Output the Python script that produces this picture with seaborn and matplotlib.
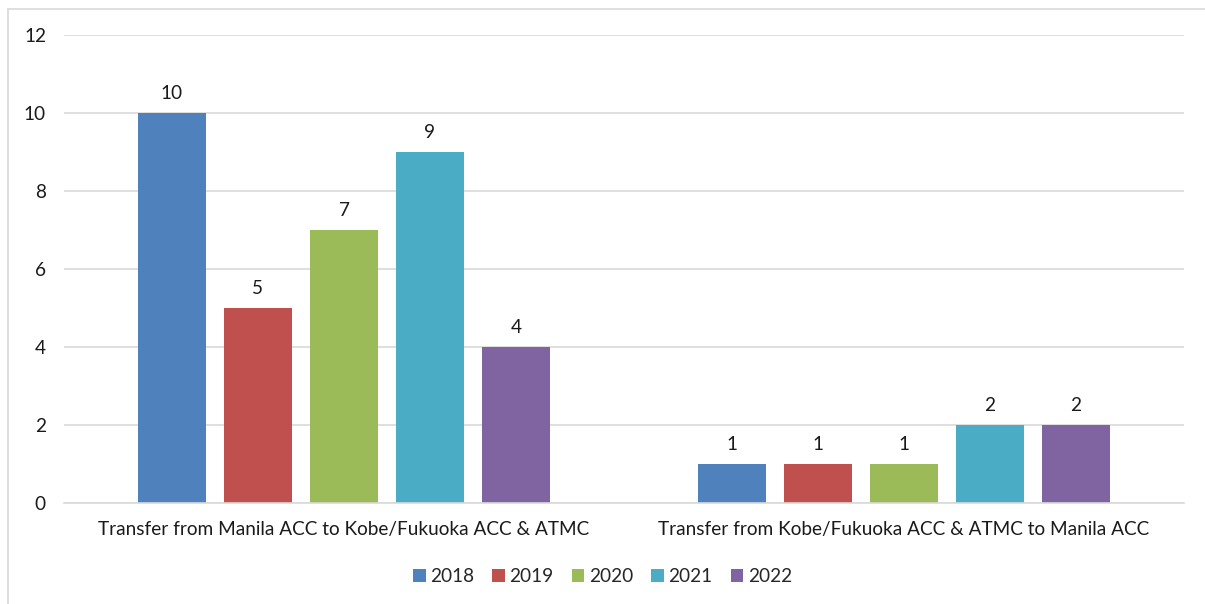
import matplotlib
matplotlib.use("Agg")
import matplotlib.pyplot as plt
from matplotlib.lines import Line2D
from matplotlib.patches import Patch
import seaborn as sns
import pandas as pd

# Controller transfer counts by direction and year
categories = [
    "Transfer from Manila ACC to Kobe/Fukuoka ACC & ATMC",
    "Transfer from Kobe/Fukuoka ACC & ATMC to Manila ACC",
]
years = ["2018", "2019", "2020", "2021", "2022"]
values_manila_to_japan = [10, 5, 7, 9, 4]
values_japan_to_manila = [1, 1, 1, 2, 2]
y_ticks = [0, 2, 4, 6, 8, 10, 12]

colors = ["#4F81BD", "#C0504D", "#9BBB59", "#4BACC6", "#8064A2"]

rows = []
for cat, vals in zip(categories, [values_manila_to_japan, values_japan_to_manila]):
    for yr, v in zip(years, vals):
        rows.append({"category": cat, "year": yr, "count": v})
df = pd.DataFrame(rows)

sns.set_theme(style="white")
plt.rcParams["font.family"] = ["Lato", "DejaVu Sans"]

FS = 13.7
TXT = "#1a1a1a"

fig = plt.figure(figsize=(12.05, 6.04), dpi=100)
ax = fig.add_axes([64 / 1205, 1 - 503 / 604, 1120 / 1205, 468 / 604])

sns.barplot(
    data=df, x="category", y="count", hue="year",
    order=categories, hue_order=years, palette=colors,
    width=0.768, gap=0.22, saturation=1, ax=ax, legend=False,
    linewidth=0, edgecolor="none",
)

for container in ax.containers:
    ax.bar_label(container, fmt="%d", padding=8, fontsize=FS, color=TXT)

ax.set_ylim(0, 12)
ax.set_yticks(y_ticks)
ax.set_yticklabels([str(t) for t in y_ticks], fontsize=FS, color=TXT)
ax.tick_params(axis="x", labelsize=FS, colors=TXT, pad=13, length=0)
ax.tick_params(axis="y", pad=13, length=0)
ax.set_xlabel("")
ax.set_ylabel("")
ax.yaxis.grid(True, color="#D9D9D9", linewidth=1.2)
ax.set_axisbelow(True)
for side in ["top", "right", "left"]:
    ax.spines[side].set_visible(False)
ax.spines["bottom"].set_color("#D9D9D9")
ax.spines["bottom"].set_linewidth(1.2)

handles = [Patch(facecolor=c, edgecolor="none") for c in colors]
fig.legend(
    handles, years, loc="center", bbox_to_anchor=(0.5, 1 - 577 / 604),
    ncol=5, frameon=False, fontsize=FS, handlelength=0.65, handleheight=0.65,
    handletextpad=0.25, columnspacing=0.95,
)

# Chart area frame edges
fig.add_artist(Line2D([8 / 1205, 1.0], [1 - 9 / 604, 1 - 9 / 604],
                      transform=fig.transFigure, color="#D9D9D9", linewidth=1.2))
fig.add_artist(Line2D([8 / 1205, 8 / 1205], [0.0, 1 - 9 / 604],
                      transform=fig.transFigure, color="#D9D9D9", linewidth=1.2))

fig.savefig("out.png", dpi=100, facecolor="white")
